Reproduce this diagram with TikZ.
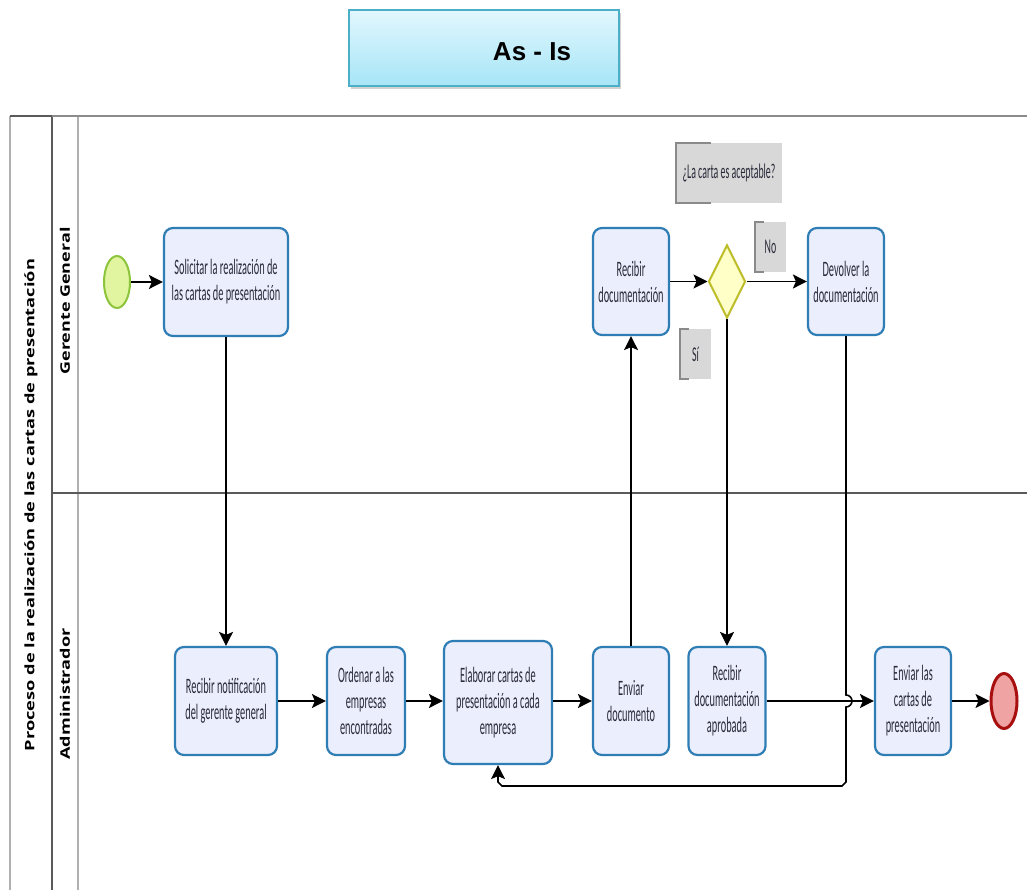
\documentclass[tikz,border=0pt]{standalone}
\usepackage{fontspec}
\usepackage{graphicx}
\usetikzlibrary{arrows.meta,shapes.geometric,shadows}

\newfontfamily\taskfont[FakeStretch=0.47]{Carlito}
\newfontfamily\lanefont{Open Sans}
\newfontfamily\titlefont{Liberation Sans}

\definecolor{taskfill}{HTML}{EBEEFC}
\definecolor{taskborder}{HTML}{2E7DB5}
\definecolor{tasktext}{HTML}{2A2A3A}
\definecolor{startfill}{HTML}{E1F5A0}
\definecolor{startborder}{HTML}{8CC43C}
\definecolor{endfill}{HTML}{EFA3A3}
\definecolor{endborder}{HTML}{A80F0F}
\definecolor{gwfill}{HTML}{FFFFC8}
\definecolor{gwborder}{HTML}{BDBD2A}
\definecolor{annofill}{HTML}{D8D8D8}
\definecolor{annoborder}{HTML}{8A8A8A}
\definecolor{titletop}{HTML}{E2F7FD}
\definecolor{titlebottom}{HTML}{A6E5F7}
\definecolor{titleborder}{HTML}{4BAFC8}
\definecolor{poollight}{HTML}{B0B0B0}
\definecolor{pooldark}{HTML}{5A5A5A}

\tikzset{
  task/.style={rectangle, rounded corners=9pt, draw=taskborder, line width=2.2pt,
    fill=taskfill, align=center, text=tasktext, inner sep=2pt,
    font=\taskfont\fontsize{22}{26}\selectfont},
  startev/.style={ellipse, draw=startborder, fill=startfill, line width=2pt,
    minimum width=26pt, minimum height=52pt, inner sep=0pt},
  endev/.style={ellipse, draw=endborder, fill=endfill, line width=3pt,
    minimum width=26pt, minimum height=55pt, inner sep=0pt},
  gateway/.style={diamond, draw=gwborder, fill=gwfill, line width=2pt,
    minimum width=37pt, minimum height=73pt, inner sep=0pt},
  anno/.style={rectangle, fill=annofill, align=center, text=tasktext, inner sep=0pt,
    font=\taskfont\fontsize{21}{24}\selectfont},
  bracket/.style={draw=annoborder, line width=1.6pt},
  flow/.style={draw=black, line width=1.6pt,
    -{Stealth[length=14pt,width=14pt,inset=3pt]}},
  lane/.style={inner sep=0pt, rotate=90},
  titlebox/.style={rectangle, draw=titleborder, line width=1.5pt,
    top color=titletop, bottom color=titlebottom,
    drop shadow={shadow xshift=2pt, shadow yshift=-3pt, opacity=0.35},
    font=\titlefont\bfseries\fontsize{26}{30}\selectfont, text=black}
}

\begin{document}
\begin{tikzpicture}[x=1pt, y=-1pt]
  \useasboundingbox (0,0) rectangle (1027,890);
  \fill[white] (0,0) rectangle (1027,890);

  % title banner
  \node[titlebox, minimum width=270pt, minimum height=76pt] (title) at (484,48)
    {\hspace*{96pt}\raisebox{-4pt}[\height][\depth]{As - Is}};

  % pool and lanes
  \draw[poollight, line width=1.5pt] (10,116) -- (10,890);
  \draw[pooldark, line width=1.5pt] (52,116) -- (52,890);
  \draw[poollight, line width=2pt] (78,116) -- (78,890);
  \draw[pooldark!70, line width=2pt] (10,116) -- (1027,116);
  \draw[pooldark, line width=2pt] (10,116) -- (52,116);
  \draw[pooldark, line width=1.5pt] (52,493) -- (1027,493);

  \node[lane] (pool) at (31,505)
    {\resizebox{492pt}{10pt}{\lanefont\bfseries Proceso de la realización de las cartas de presentación}};
  \node[lane] (lanegg) at (65,301)
    {\resizebox{147pt}{10pt}{\lanefont\bfseries Gerente General}};
  \node[lane] (laneadm) at (65,694)
    {\resizebox{131pt}{10pt}{\lanefont\bfseries Administrador}};

  % Gerente General lane
  \node[startev] (start) at (117,282) {};
  \node[task, minimum width=124pt, minimum height=108pt] (sol) at (226,282)
    {Solicitar la realización de\\las cartas de presentación};
  \node[task, minimum width=76pt, minimum height=107pt] (recdoc) at (631,281.5)
    {Recibir\\documentación};
  \node[gateway] (gw) at (727,281.5) {};
  \node[task, minimum width=76pt, minimum height=107pt] (dev) at (846,281.5)
    {Devolver la\\documentación};

  \node[anno, minimum width=106pt, minimum height=60pt] (q) at (729,173)
    {¿La carta es aceptable?};
  \node[anno, minimum width=31pt, minimum height=50pt] (no) at (770.5,247) {No};
  \node[anno, minimum width=31pt, minimum height=50pt] (si) at (695.5,354) {Sí};
  \draw[bracket] ([xshift=35pt]q.north west) -- (q.north west) -- (q.south west) -- ([xshift=35pt]q.south west);
  \draw[bracket] ([xshift=9pt]no.north west) -- (no.north west) -- (no.south west) -- ([xshift=9pt]no.south west);
  \draw[bracket] ([xshift=9pt]si.north west) -- (si.north west) -- (si.south west) -- ([xshift=9pt]si.south west);

  % Administrador lane
  \node[task, minimum width=102pt, minimum height=108pt] (rnot) at (226,701)
    {Recibir notificación\\del gerente general};
  \node[task, minimum width=78pt, minimum height=108pt] (ord) at (366,701)
    {Ordenar a las\\empresas\\encontradas};
  \node[task, minimum width=108pt, minimum height=123pt] (elab) at (498,702.5)
    {Elaborar cartas de\\presentación a cada\\empresa};
  \node[task, minimum width=76pt, minimum height=108pt] (env) at (631,701)
    {Enviar\\documento};
  \node[task, minimum width=77pt, minimum height=108pt] (rap) at (727,701)
    {Recibir\\documentación\\aprobada};
  \node[task, minimum width=76pt, minimum height=108pt] (envc) at (913,701)
    {Enviar las\\cartas de\\presentación};
  \node[endev] (fin) at (1004,701) {};

  % sequence flows
  \draw[flow] (start) -- (sol);
  \draw[flow] (sol.south) -- (rnot.north);
  \draw[flow] (rnot) -- (ord);
  \draw[flow] (ord.east) -- (ord.east -| elab.west);
  \draw[flow] (elab.east |- env) -- (env.west);
  \draw[flow] (env.north) -- (recdoc.south);
  \draw[flow] (recdoc) -- (gw);
  \draw[flow] (gw) -- (dev);
  \draw[flow] (gw.south) -- (rap.north);
  \draw[flow] (rap) -- (envc);
  \draw[flow] (envc) -- (fin);
  \draw[flow] (dev.south) -- (846,695) arc[start angle=90, end angle=-90, radius=6pt]
    -- (846,782) -- (842,786) -- (502,786) -- (498,782) -- (elab.south);
\end{tikzpicture}
\end{document}
